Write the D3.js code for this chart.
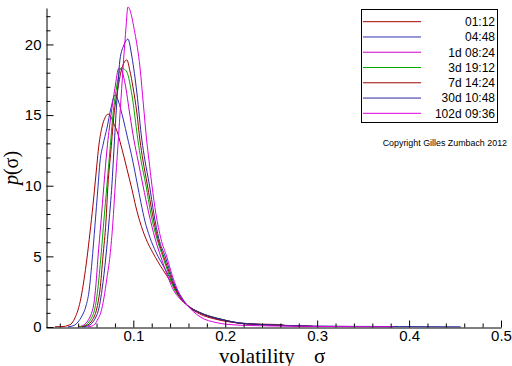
<!DOCTYPE html>
<html><head><meta charset="utf-8">
<script src="https://cdn.jsdelivr.net/npm/d3@7"></script>
<style>body{margin:0;background:#fff}svg{display:block}</style>
</head><body>
<script>
// ---- data (sigma, p(sigma)) ----
const seriesLabels = ["01:12","04:48","1d 08:24","3d 19:12","7d 14:24","30d 10:48","102d 09:36"];
const xTickValues = [0.1,0.2,0.3,0.4,0.5];
const yTickValues = [0,5,10,15,20];

const s0112 = [[0.0148,0.014],[0.0235,0.035],[0.0289,0.106],[0.0333,0.283],[0.0365,0.64],[0.0398,1.2],[0.0430,2.05],[0.0463,3.33],[0.0496,4.88],[0.0528,6.65],[0.0561,8.63],[0.0593,10.76],[0.0626,12.9],[0.0659,14.15],[0.0691,14.79],[0.0724,15.07],[0.0757,14.86],[0.0789,14.37],[0.0822,13.87],[0.0865,12.88],[0.0898,12.05],[0.0930,11.2],[0.0985,9.75],[0.1028,8.5],[0.1072,7.45],[0.1137,6.25],[0.1213,5.25],[0.1322,4.05],[0.1398,3.30],[0.1485,2.42],[0.1583,1.56],[0.1724,0.92],[0.1887,0.566],[0.2050,0.354],[0.2343,0.21],[0.2485,0.19],[0.2626,0.16],[0.2648,0.06]];
const s0448 = [[0.0289,0.014],[0.0354,0.106],[0.0398,0.354],[0.0441,0.778],[0.0485,1.486],[0.0517,2.48],[0.0550,4.60],[0.0583,7.22],[0.0615,9.84],[0.0637,11.68],[0.0670,12.88],[0.0713,14.08],[0.0757,15.50],[0.0800,16.42],[0.0833,16.07],[0.0865,15.36],[0.0898,14.51],[0.0930,13.59],[0.0963,12.67],[0.0996,11.68],[0.1039,10.26],[0.1083,8.80],[0.1126,7.50],[0.1180,6.35],[0.1246,5.30],[0.1333,4.25],[0.1420,3.22],[0.1507,2.30],[0.1583,1.56],[0.1724,1.01],[0.1887,0.616],[0.2050,0.389],[0.2267,0.226],[0.2485,0.142],[0.2702,0.085],[0.2952,0.035]];
const s1d0824 = [[0.0398,0.014],[0.0452,0.106],[0.0496,0.354],[0.0528,0.707],[0.0550,1.06],[0.0572,1.70],[0.0593,2.97],[0.0615,4.88],[0.0648,7.43],[0.0680,10.05],[0.0713,12.53],[0.0757,15.0],[0.0800,16.91],[0.0843,18.33],[0.0865,18.26],[0.0909,17.27],[0.0963,15.0],[0.1007,13.23],[0.1050,11.82],[0.1104,10.05],[0.1170,8.0],[0.1235,6.3],[0.1300,4.95],[0.1365,3.75],[0.1430,2.70],[0.1507,2.0],[0.1583,1.56],[0.1724,1.01],[0.1909,0.61],[0.2017,0.446],[0.2159,0.262],[0.2343,0.19],[0.2593,0.12],[0.2887,0.071],[0.2952,0.04]];
const s3d1912 = [[0.0420,0.014],[0.0474,0.106],[0.0517,0.354],[0.0550,0.707],[0.0572,1.06],[0.0593,1.70],[0.0615,2.76],[0.0648,5.02],[0.0680,7.57],[0.0713,10.05],[0.0746,12.53],[0.0778,15.0],[0.0822,17.13],[0.0865,18.33],[0.0898,18.26],[0.0930,18.05],[0.0985,16.42],[0.1050,13.23],[0.1083,11.82],[0.1137,10.05],[0.1191,8.0],[0.1257,6.25],[0.1322,4.95],[0.1387,3.72],[0.1441,2.75],[0.1517,2.0],[0.1583,1.56],[0.1724,1.03],[0.1909,0.63],[0.2017,0.46],[0.2159,0.27],[0.2343,0.19],[0.2593,0.12],[0.2887,0.07],[0.2952,0.04]];
const s7d1424 = [[0.0441,0.014],[0.0496,0.106],[0.0539,0.354],[0.0572,0.707],[0.0593,1.06],[0.0615,1.70],[0.0637,2.62],[0.0670,5.02],[0.0702,7.43],[0.0724,10.05],[0.0757,12.53],[0.0789,15.0],[0.0833,16.91],[0.0876,18.33],[0.0930,18.90],[0.0963,18.12],[0.0996,16.99],[0.1039,15.14],[0.1072,13.23],[0.1104,11.82],[0.1153,10.05],[0.1208,8.0],[0.1267,6.25],[0.1333,4.95],[0.1398,3.72],[0.1452,2.75],[0.1517,2.0],[0.1583,1.56],[0.1724,1.0],[0.1909,0.6],[0.2017,0.44],[0.2159,0.26],[0.2343,0.18],[0.2593,0.11],[0.2887,0.065],[0.2952,0.04]];
const s30d1048 = [[0.0463,0.014],[0.0517,0.106],[0.0561,0.354],[0.0593,0.707],[0.0615,1.06],[0.0637,1.70],[0.0659,2.62],[0.0702,5.02],[0.0735,7.43],[0.0767,10.05],[0.0789,12.53],[0.0811,15.0],[0.0833,17.13],[0.0854,18.90],[0.0898,19.96],[0.0941,20.38],[0.0985,19.11],[0.1039,16.56],[0.1093,13.23],[0.1126,11.82],[0.1175,10.05],[0.1224,8.0],[0.1278,6.25],[0.1349,4.95],[0.1409,3.72],[0.1463,2.75],[0.1528,2.0],[0.1583,1.56],[0.1724,1.02],[0.1909,0.62],[0.2017,0.45],[0.2159,0.27],[0.2343,0.19],[0.2593,0.12],[0.2887,0.075],[0.3354,0.045],[0.3898,0.03],[0.4561,0.014]];
const s102d0936 = [[0.0507,0.014],[0.0550,0.071],[0.0583,0.212],[0.0615,0.566],[0.0648,1.06],[0.0680,2.05],[0.0713,3.47],[0.0746,5.02],[0.0778,7.43],[0.0800,9.70],[0.0833,12.88],[0.0865,16.07],[0.0898,19.25],[0.0920,21.16],[0.0941,22.65],[0.1017,20.81],[0.1072,18.40],[0.1110,15.71],[0.1145,13.23],[0.1170,11.82],[0.1202,10.05],[0.1246,8.0],[0.1300,6.25],[0.1365,4.95],[0.1420,3.72],[0.1474,2.75],[0.1528,2.0],[0.1583,1.56],[0.1724,0.729],[0.1909,0.304],[0.2017,0.19],[0.2267,0.106],[0.2811,0.05],[0.3354,0.028],[0.3822,0.014]];

const seriesData = [s0112, s0448, s1d0824, s3d1912, s7d1424, s30d1048, s102d0936];
const seriesColors = ["#a80000","#3030b8","#cc00cc","#00a800","#a00000","#2828a0","#e000e0"];

// ---- layout ----
const W = 512, H = 366;
const svg = d3.select("body").append("svg").attr("width", W).attr("height", H);
svg.append("rect").attr("width", W).attr("height", H).attr("fill", "#fff");

const x = d3.scaleLinear().domain([0.005, 0.5]).range([46, 501]);
const y = d3.scaleLinear().domain([0, 22.58]).range([327, 8]);

const tickFont = "'Liberation Sans', Arial, sans-serif";

// curves
const line = d3.line().x(d => x(d[0])).y(d => y(d[1])).curve(d3.curveMonotoneX);
svg.append("g").selectAll("path").data(seriesData).join("path")
  .attr("d", line).attr("fill", "none")
  .attr("stroke", (d, i) => seriesColors[i]).attr("stroke-width", 1);

// x axis
const xMinor = d3.range(0.02, 0.5, 0.02).filter(v => Math.abs(v * 10 - Math.round(v * 10)) > 1e-6);
const gx = svg.append("g").attr("transform", "translate(0,327.5)");
gx.call(d3.axisBottom(x).tickValues(xTickValues).tickSize(-7).tickSizeOuter(0).tickPadding(3).tickFormat(d3.format(".1f")));
gx.append("g").call(d3.axisBottom(x).tickValues(xMinor).tickSize(-4).tickFormat(""))
  .select(".domain").remove();
gx.selectAll("text").attr("font-size", 15).attr("font-family", tickFont).attr("fill", "#000");

// y axis
const yMinor = d3.range(1, 23, 1).filter(v => v % 5 !== 0);
const gy = svg.append("g").attr("transform", "translate(46.5,0)");
gy.call(d3.axisLeft(y).tickValues(yTickValues).tickSize(-7).tickSizeOuter(0).tickPadding(5).tickFormat(d3.format("d")));
gy.append("g").call(d3.axisLeft(y).tickValues(yMinor).tickSize(-4).tickFormat(""))
  .select(".domain").remove();
gy.selectAll("text").attr("font-size", 15).attr("font-family", tickFont).attr("fill", "#000");
svg.selectAll(".domain").attr("stroke", "#000");
svg.selectAll(".tick line").attr("stroke", "#000");

// axis titles
const serif = "'Liberation Serif', 'DejaVu Serif', serif";
svg.append("text").attr("x", 219).attr("y", 362.5).attr("font-family", serif).attr("font-size", 21).text("volatility");
svg.append("text").attr("x", 314).attr("y", 362.5).attr("font-family", serif).attr("font-size", 21).text("σ");
const yl = svg.append("text").attr("transform", "translate(18,168) rotate(-90)")
  .attr("text-anchor", "middle").attr("font-family", serif).attr("font-size", 20);
yl.append("tspan").attr("font-style", "italic").text("p");
yl.append("tspan").text("(σ)");

// legend
const lg = svg.append("g");
lg.append("rect").attr("x", 361.5).attr("y", 9.5).attr("width", 136).attr("height", 113)
  .attr("fill", "#fff").attr("stroke", "#000");
seriesLabels.forEach((lab, i) => {
  const yy = 21.7 + i * 15.27;
  lg.append("line").attr("x1", 363).attr("x2", 421).attr("y1", yy).attr("y2", yy)
    .attr("stroke", seriesColors[i]).attr("stroke-width", 1);
  lg.append("text").attr("x", 495).attr("y", yy).attr("dy", "0.36em").attr("text-anchor", "end")
    .attr("font-family", tickFont).attr("font-size", 12).text(lab);
});

svg.append("text").attr("x", 507).attr("y", 146).attr("text-anchor", "end")
  .attr("font-family", tickFont).attr("font-size", 8.9).text("Copyright Gilles Zumbach 2012");
</script>
</body></html>
